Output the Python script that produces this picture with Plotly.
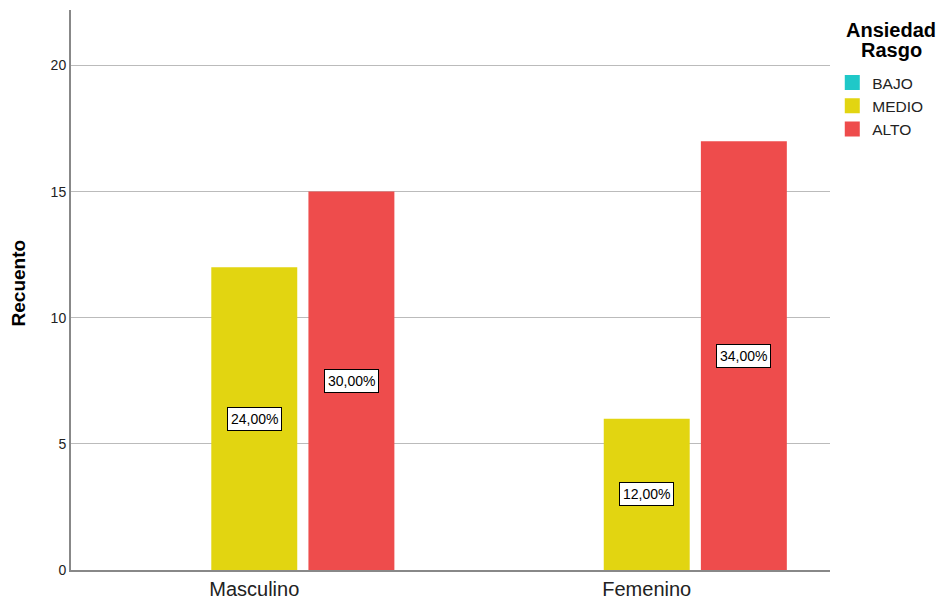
import plotly.graph_objects as go

categories = ["Masculino", "Femenino"]
series_names = ["BAJO", "MEDIO", "ALTO"]
bajo = [0, 0]
medio = [12, 6]
alto = [15, 17]
pct_medio = ["24,00%", "12,00%"]
pct_alto = ["30,00%", "34,00%"]
y_ticks = [0, 5, 10, 15, 20]
legend_title_lines = ["Ansiedad", "Rasgo"]
y_title = "Recuento"

FONT = "Liberation Sans, Arial, sans-serif"
colors = {"BAJO": "#1fc8c8", "MEDIO": "#e2d511", "ALTO": "#ee4c4c"}
bar_w = 0.219
offsets = {"BAJO": -0.357, "MEDIO": -0.1095, "ALTO": 0.138}
xs = list(range(len(categories)))

fig = go.Figure()
for name, vals in zip(series_names, [bajo, medio, alto]):
    fig.add_trace(go.Bar(
        x=xs, y=vals, name=name, marker_color=colors[name],
        width=bar_w, offset=offsets[name], marker_line_width=0,
        showlegend=False, hoverinfo="skip"))

# legend entries (square swatches)
for name in series_names:
    fig.add_trace(go.Scatter(
        x=[None], y=[None], mode="markers", name=name,
        marker=dict(symbol="square", size=15, color=colors[name], line_width=0),
        showlegend=True, hoverinfo="skip"))

for name, vals, labels in [("MEDIO", medio, pct_medio), ("ALTO", alto, pct_alto)]:
    for xi, v, lab in zip(xs, vals, labels):
        fig.add_annotation(
            x=xi + offsets[name] + bar_w / 2, y=v / 2, text=lab,
            showarrow=False, font=dict(family=FONT, size=14, color="black"),
            bgcolor="white", bordercolor="black", borderwidth=1, borderpad=3)

# legend title lines
for i, line in enumerate(legend_title_lines):
    fig.add_annotation(
        xref="paper", yref="paper", x=1.0804, y=(570 - 30 - 20.5 * i) / 560,
        text="<b>" + line + "</b>", showarrow=False, xanchor="center", yanchor="middle",
        font=dict(family=FONT, size=20, color="black"))

# y axis title
fig.add_annotation(
    xref="paper", yref="paper", x=-0.0692, y=0.5125, text="<b>" + y_title + "</b>",
    textangle=-90, showarrow=False, xanchor="center", yanchor="middle",
    font=dict(family=FONT, size=19, color="black"))

fig.update_layout(
    width=939, height=601,
    margin=dict(l=71, r=109, t=10, b=31),
    plot_bgcolor="white", paper_bgcolor="white",
    font=dict(family=FONT, color="#222"),
    barmode="group",
    showlegend=True,
    legend=dict(
        x=1.003, xanchor="left", y=(570 - 66) / 560, yanchor="top",
        font=dict(size=15.5, color="#222", family=FONT),
        itemwidth=30, tracegroupgap=0, itemsizing="trace",
        bgcolor="rgba(0,0,0,0)"),
    xaxis=dict(
        range=[-0.467, 1.467], tickmode="array", tickvals=xs, ticktext=categories,
        showgrid=False, showline=True, linecolor="#888", linewidth=2,
        ticks="", tickfont=dict(size=20, color="#222"), zeroline=False,
        automargin=False),
    yaxis=dict(
        range=[0, 22.2], tickmode="array", tickvals=y_ticks,
        showgrid=True, gridcolor="#bbbbbb", gridwidth=1,
        showline=True, linecolor="#888", linewidth=2,
        ticks="", tickfont=dict(size=14, color="#222"), zeroline=False,
        automargin=False),
)

fig.write_html("out.html")
